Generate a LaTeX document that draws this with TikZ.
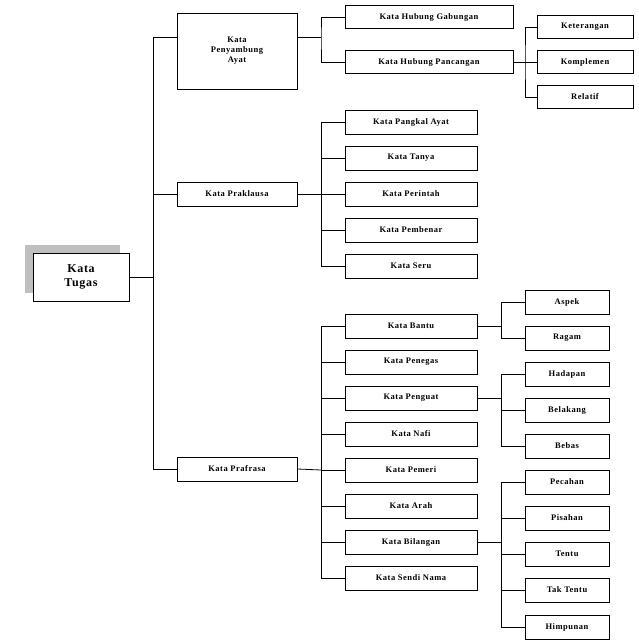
\documentclass[tikz,border=0pt]{standalone}
\usepackage{fontspec}
\setmainfont{Liberation Serif}[LetterSpace=6]
\begin{document}
\begin{tikzpicture}[x=1pt,y=-1pt,
  b/.style={draw,line width=0.8pt,fill=white,inner sep=0pt,font=\bfseries\fontsize{8.5}{10}\selectfont,align=center},
  ln/.style={line width=0.8pt}]
\useasboundingbox (0,0) rectangle (638,643);
\fill[gray!50] (25,245) rectangle (120,293);
\node[b,minimum width=96,minimum height=48,font=\bfseries\fontsize{12}{14}\selectfont] (root) at (81,277) {Kata\\Tugas};
% level 1
\node[b,minimum width=120,minimum height=76] (p) at (237,51) {Kata\\Penyambung\\Ayat};
\node[b,minimum width=120,minimum height=24] (k) at (237,194) {Kata Praklausa};
\node[b,minimum width=120,minimum height=24] (f) at (237,469) {Kata Prafrasa};
\coordinate (v1t) at (153,37); \coordinate (v1b) at (153,469); \coordinate (v1m) at (153,277);
\draw[ln] (root.east) -- (v1m);
\draw[ln] (v1t) -- (v1b);
\draw[ln] (v1t) -- (p.west|-v1t);
\draw[ln] (153,194) coordinate (j1) -- (k.west);
\draw[ln] (v1b) -- (f.west);
% group 1
\node[b,minimum width=168,minimum height=23] (hg) at (429,17) {Kata Hubung Gabungan};
\node[b,minimum width=168,minimum height=23] (hp) at (429,62) {Kata Hubung Pancangan};
\coordinate (g1m) at (321,37);
\draw[ln] (p.east|-g1m) -- (g1m);
\draw[ln] (hg.west) -| (g1m) |- (hp.west);
\foreach \n/\t/\y in {ket/Keterangan/27,kom/Komplemen/62,rel/Relatif/97}
  \node[b,minimum width=96,minimum height=23] (\n) at (585,\y) {\t};
\coordinate (g3m) at (525,62);
\draw[ln] (hp.east) -- (kom.west);
\draw[ln] (ket.west) -| (g3m) |- (rel.west);
% group 2
\foreach \n/\t/\y in {a1/Kata Pangkal Ayat/122,a2/Kata Tanya/158,a3/Kata Perintah/194,a4/Kata Pembenar/230,a5/Kata Seru/266}{
  \node[b,minimum width=132,minimum height=24] (\n) at (411,\y) {\t};
  \draw[ln] (321,\y) coordinate (c\n) -- (\n.west);}
\draw[ln] (k.east) -- (ca3);
\draw[ln] (ca1) -- (ca5);
% group 3
\foreach \n/\t/\y in {b1/Kata Bantu/326,b2/Kata Penegas/362,b3/Kata Penguat/398,b4/Kata Nafi/434,b5/Kata Pemeri/470,b6/Kata Arah/506,b7/Kata Bilangan/542,b8/Kata Sendi Nama/578}{
  \node[b,minimum width=132,minimum height=24] (\n) at (411,\y) {\t};
  \draw[ln] (321,\y) coordinate (c\n) -- (\n.west);}
\draw[ln] (f.east) -- (cb5);
\draw[ln] (cb1) -- (cb8);
% leaves
\foreach \n/\t/\y in {s1/Aspek/302,s2/Ragam/338,s3/Hadapan/374,s4/Belakang/410,s5/Bebas/446,s6/Pecahan/482,s7/Pisahan/518,s8/Tentu/554,s9/Tak Tentu/590,s10/Himpunan/627}{
  \node[b,minimum width=84,minimum height=24] (\n) at (567,\y) {\t};
  \draw[ln] (501,\y) coordinate (c\n) -- (\n.west);}
\draw[ln] (b1.east) -- (501,326); \draw[ln] (cs1) -- (cs2);
\draw[ln] (b3.east) -- (501,398); \draw[ln] (cs3) -- (cs5);
\draw[ln] (b7.east) -- (501,542); \draw[ln] (cs6) -- (cs10);
\end{tikzpicture}
\end{document}
